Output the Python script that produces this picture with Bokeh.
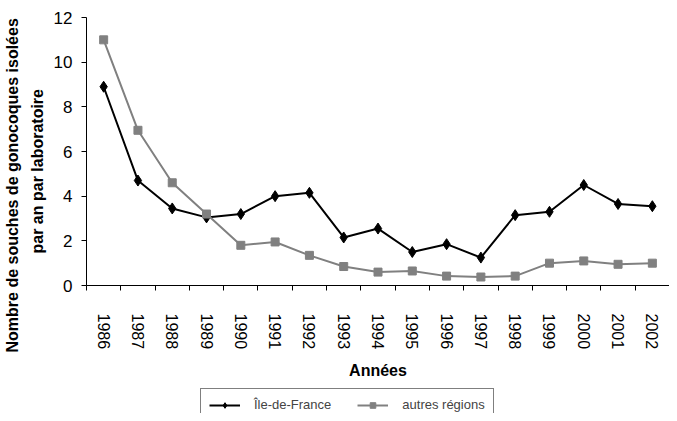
from bokeh.plotting import figure
from bokeh.models import Range1d, FixedTicker, Legend, LegendItem, Title
from bokeh.layouts import column
from bokeh.embed import file_html
from bokeh.resources import INLINE

years = ["1986", "1987", "1988", "1989", "1990", "1991", "1992", "1993", "1994",
         "1995", "1996", "1997", "1998", "1999", "2000", "2001", "2002"]
idf = [8.9, 4.7, 3.45, 3.05, 3.2, 4.0, 4.15, 2.15, 2.55, 1.5, 1.85, 1.25, 3.15, 3.3, 4.5, 3.65, 3.55]
autres = [11.0, 6.95, 4.6, 3.2, 1.8, 1.95, 1.35, 0.85, 0.6, 0.65, 0.42, 0.38, 0.42, 1.0, 1.1, 0.95, 1.0]
y_ticks = [0, 2, 4, 6, 8, 10, 12]
y_title = ["Nombre de souches de gonocoques isolées", "par an par laboratoire"]
series_names = ["Île-de-France", "autres régions"]

xs = list(range(len(years)))
FONT = "Liberation Sans"

p = figure(width=669, height=382, output_backend="svg", toolbar_location=None,
           x_range=Range1d(-0.5, len(years) - 0.5), y_range=Range1d(0, 12),
           min_border_left=83, min_border_top=17, min_border_right=0, min_border_bottom=93)
p.outline_line_color = None
p.xgrid.visible = False
p.ygrid.visible = False
p.background_fill_color = "white"
p.border_fill_color = "white"

# x axis: labels at category centres, ticks at boundaries
p.xaxis.ticker = FixedTicker(ticks=xs, minor_ticks=[i - 0.5 for i in range(len(years) + 1)])
p.xaxis.major_label_overrides = {i: y for i, y in enumerate(years)}
p.xaxis.major_tick_line_color = None
p.xaxis.major_tick_out = 5
p.xaxis.major_tick_in = 0
p.xaxis.minor_tick_line_color = "black"
p.xaxis.minor_tick_out = 5
p.xaxis.minor_tick_in = 0
p.xaxis.major_label_orientation = "vertical"
p.xaxis.major_label_text_font = FONT
p.xaxis.major_label_text_font_size = "16px"
p.xaxis.major_label_text_color = "black"
p.xaxis.major_label_standoff = 23
p.xaxis.axis_label = "Années"
p.xaxis.axis_label_text_font = FONT
p.xaxis.axis_label_text_font_style = "bold"
p.xaxis.axis_label_text_font_size = "16px"
p.xaxis.axis_label_text_color = "black"
p.xaxis.axis_label_standoff = 10
p.xaxis.axis_line_color = "black"

# y axis
p.yaxis.ticker = FixedTicker(ticks=y_ticks)
p.yaxis.minor_tick_line_color = None
p.yaxis.major_tick_out = 5
p.yaxis.major_tick_in = 0
p.yaxis.major_label_text_font = FONT
p.yaxis.major_label_text_font_size = "17px"
p.yaxis.major_label_text_color = "black"
p.yaxis.major_label_standoff = 9
p.yaxis.axis_line_color = "black"

# y title as two stacked side titles (closest line first)
t2 = Title(text=y_title[1], align="left", offset=32, standoff=10,
           text_font=FONT, text_font_style="bold", text_font_size="16px", text_color="black")
t1 = Title(text=y_title[0], align="left", offset=-67, standoff=2,
           text_font=FONT, text_font_style="bold", text_font_size="16px", text_color="black")
p.add_layout(t2, "left")
p.add_layout(t1, "left")

p.line(xs, idf, line_color="black", line_width=2)
p.scatter(xs, idf, marker="diamond", size=11, fill_color="black", line_color="black")
p.line(xs, autres, line_color="#808080", line_width=2)
p.scatter(xs, autres, marker="square", size=8, fill_color="#808080", line_color="#808080")

# legend strip below the chart: same series, drawn off-range so only the key shows
q = figure(width=669, height=31, output_backend="svg", toolbar_location=None,
           title_location=None,
           x_range=Range1d(-100, -99), y_range=Range1d(-100, -99),
           min_border=0, x_axis_location=None, y_axis_location=None)
q.outline_line_color = None
q.xgrid.visible = False
q.ygrid.visible = False
q1l = q.line(xs, idf, line_color="black", line_width=2)
q1m = q.scatter(xs, idf, marker="diamond", size=9, fill_color="black", line_color="black")
q2l = q.line(xs, autres, line_color="#808080", line_width=2)
q2m = q.scatter(xs, autres, marker="square", size=7, fill_color="#808080", line_color="#808080")
legend = Legend(items=[LegendItem(label=series_names[0], renderers=[q1l, q1m]),
                       LegendItem(label=series_names[1], renderers=[q2l, q2m])],
                orientation="horizontal", location=(114, -8),
                label_text_font=FONT, label_text_font_size="13px",
                glyph_width=31, glyph_height=14, label_standoff=14, spacing=26,
                border_line_color="black", border_line_width=1,
                padding=8, margin=0)
q.add_layout(legend, "center")

layout = column(p, q, spacing=0)
open("out.html", "w").write(file_html(layout, INLINE))
